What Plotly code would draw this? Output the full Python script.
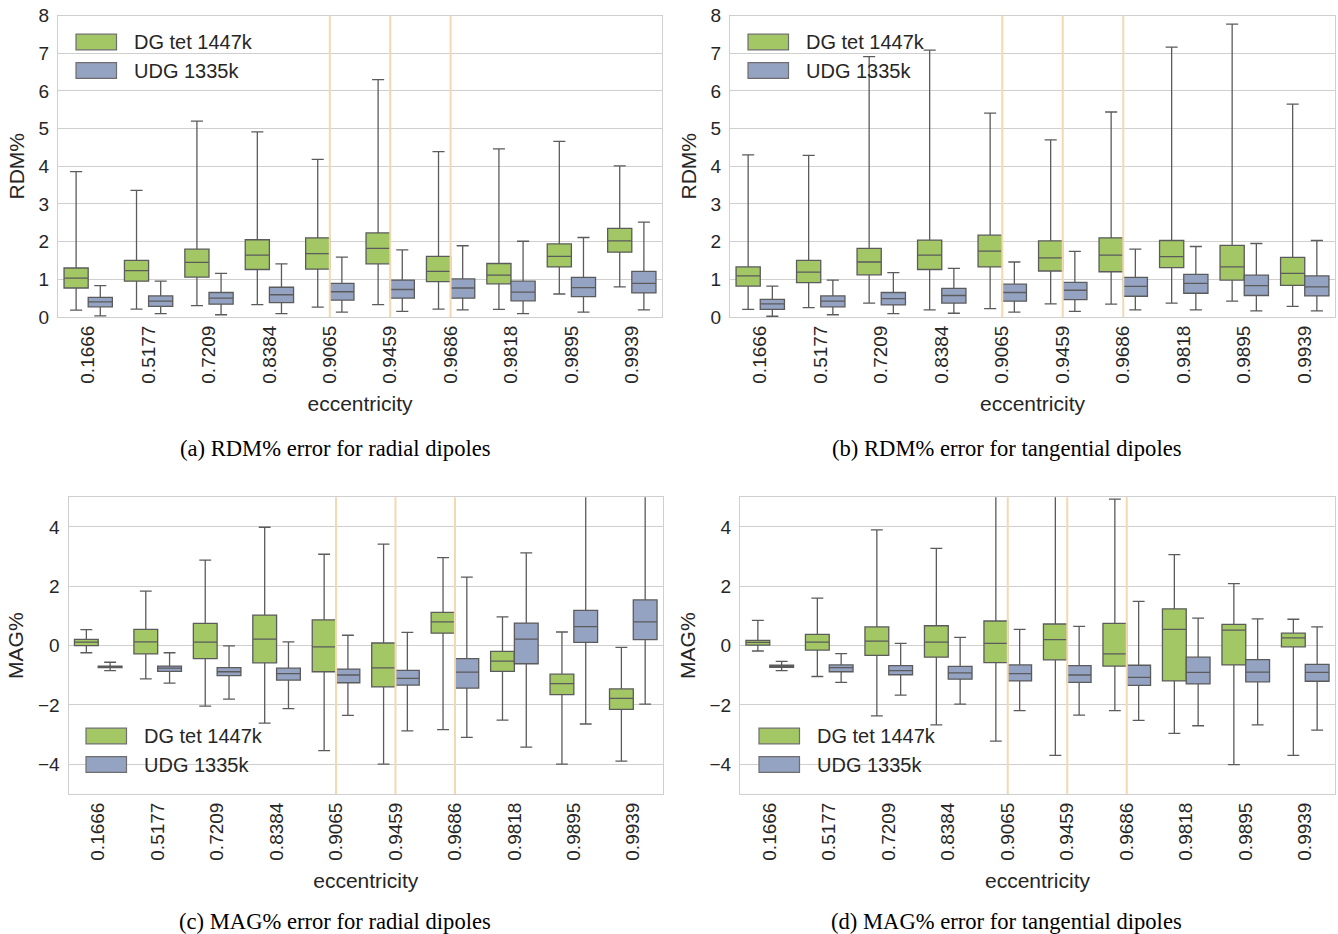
import plotly.graph_objects as go

# ---------------- data ----------------
categories = ["0.1666", "0.5177", "0.7209", "0.8384", "0.9065",
              "0.9459", "0.9686", "0.9818", "0.9895", "0.9939"]
highlighted = ["0.9065", "0.9459", "0.9686"]
series_names = ["DG tet 1447k", "UDG 1335k"]

# (a) RDM% radial
a_dg_low = [0.18, 0.21, 0.30, 0.33, 0.26, 0.33, 0.21, 0.20, 0.61, 0.80]
a_dg_q1 = [0.77, 0.95, 1.06, 1.26, 1.27, 1.41, 0.94, 0.88, 1.33, 1.72]
a_dg_med = [1.03, 1.23, 1.45, 1.64, 1.68, 1.82, 1.21, 1.11, 1.61, 2.02]
a_dg_q3 = [1.30, 1.50, 1.80, 2.05, 2.10, 2.23, 1.61, 1.42, 1.94, 2.35]
a_dg_up = [3.86, 3.36, 5.20, 4.91, 4.18, 6.30, 4.39, 4.46, 4.66, 4.01]
a_udg_low = [0.03, 0.09, 0.06, 0.09, 0.13, 0.15, 0.19, 0.09, 0.13, 0.19]
a_udg_q1 = [0.27, 0.28, 0.34, 0.38, 0.45, 0.50, 0.50, 0.43, 0.54, 0.64]
a_udg_med = [0.40, 0.42, 0.50, 0.59, 0.67, 0.73, 0.77, 0.66, 0.78, 0.89]
a_udg_q3 = [0.52, 0.56, 0.65, 0.79, 0.89, 0.98, 1.01, 0.95, 1.05, 1.21]
a_udg_up = [0.83, 0.95, 1.16, 1.41, 1.59, 1.78, 1.89, 2.01, 2.11, 2.52]

# (b) RDM% tangential
b_dg_low = [0.20, 0.25, 0.37, 0.19, 0.22, 0.35, 0.34, 0.37, 0.42, 0.28]
b_dg_q1 = [0.82, 0.91, 1.12, 1.26, 1.33, 1.22, 1.20, 1.31, 0.98, 0.84]
b_dg_med = [1.09, 1.19, 1.46, 1.64, 1.75, 1.57, 1.64, 1.60, 1.33, 1.16]
b_dg_q3 = [1.33, 1.50, 1.82, 2.04, 2.17, 2.02, 2.10, 2.03, 1.90, 1.58]
b_dg_up = [4.30, 4.29, 6.91, 7.08, 5.41, 4.70, 5.44, 7.16, 7.77, 5.65]
b_udg_low = [0.02, 0.06, 0.09, 0.10, 0.13, 0.15, 0.19, 0.19, 0.16, 0.16]
b_udg_q1 = [0.20, 0.27, 0.32, 0.37, 0.42, 0.46, 0.55, 0.63, 0.57, 0.56]
b_udg_med = [0.35, 0.42, 0.49, 0.57, 0.65, 0.71, 0.81, 0.89, 0.83, 0.80]
b_udg_q3 = [0.47, 0.56, 0.65, 0.76, 0.87, 0.92, 1.05, 1.13, 1.11, 1.09]
b_udg_up = [0.82, 0.98, 1.18, 1.29, 1.46, 1.74, 1.80, 1.87, 1.95, 2.03]

# (c) MAG% radial
c_dg_low = [-0.24, -1.12, -2.04, -2.61, -3.54, -3.99, -2.83, -2.51, -3.99, -3.89]
c_dg_q1 = [0.00, -0.28, -0.44, -0.58, -0.88, -1.39, 0.42, -0.87, -1.65, -2.15]
c_dg_med = [0.12, 0.13, 0.12, 0.22, -0.04, -0.75, 0.80, -0.52, -1.28, -1.78]
c_dg_q3 = [0.21, 0.55, 0.75, 1.03, 0.87, 0.09, 1.12, -0.19, -0.96, -1.46]
c_dg_up = [0.54, 1.84, 2.88, 3.99, 3.08, 3.42, 2.97, 0.97, 0.46, -0.06]
c_udg_low = [-0.84, -1.26, -1.80, -2.12, -2.35, -2.87, -3.09, -3.42, -2.64, -1.97]
c_udg_q1 = [-0.74, -0.87, -1.01, -1.16, -1.25, -1.33, -1.43, -0.61, 0.11, 0.20]
c_udg_med = [-0.71, -0.76, -0.88, -0.94, -0.99, -1.10, -0.89, 0.22, 0.64, 0.80]
c_udg_q3 = [-0.69, -0.69, -0.74, -0.76, -0.79, -0.83, -0.44, 0.76, 1.19, 1.54]
c_udg_up = [-0.56, -0.24, -0.01, 0.13, 0.35, 0.45, 2.31, 3.13, 5.60, 5.90]

# (d) MAG% tangential
d_dg_low = [-0.18, -1.04, -2.37, -2.67, -3.22, -3.70, -2.19, -2.96, -4.01, -3.70]
d_dg_q1 = [0.02, -0.15, -0.33, -0.39, -0.57, -0.48, -0.69, -1.19, -0.65, -0.04]
d_dg_med = [0.11, 0.12, 0.15, 0.12, 0.08, 0.20, -0.28, 0.55, 0.52, 0.26]
d_dg_q3 = [0.18, 0.38, 0.63, 0.67, 0.83, 0.73, 0.75, 1.24, 0.72, 0.42]
d_dg_up = [0.85, 1.60, 3.90, 3.28, 5.60, 5.80, 4.94, 3.07, 2.09, 0.89]
d_udg_low = [-0.84, -1.24, -1.67, -1.97, -2.19, -2.34, -2.52, -2.70, -2.67, -2.85]
d_udg_q1 = [-0.73, -0.88, -0.98, -1.13, -1.19, -1.24, -1.34, -1.29, -1.22, -1.20]
d_udg_med = [-0.70, -0.74, -0.84, -0.92, -0.94, -0.99, -1.07, -0.90, -0.89, -0.90]
d_udg_q3 = [-0.66, -0.65, -0.67, -0.70, -0.65, -0.67, -0.66, -0.39, -0.47, -0.63]
d_udg_up = [-0.53, -0.27, 0.08, 0.28, 0.55, 0.65, 1.49, 0.93, 0.90, 0.63]

y_titles = ["RDM%", "RDM%", "MAG%", "MAG%"]
captions = ["(a) RDM% error for radial dipoles",
            "(b) RDM% error for tangential dipoles",
            "(c) MAG% error for radial dipoles",
            "(d) MAG% error for tangential dipoles"]

# ---------------- style ----------------
W, H = 1338, 934
GREEN = "#a2c764"
BLUE = "#95a3c3"
EDGE = "#5b5b5b"
PATCH_EDGE = "#6e6e6e"
ORANGE = "rgb(243,216,176)"
GRID = "#cfcfcf"
TXT = "#262626"
SANS = "Liberation Sans, Arial, sans-serif"
SERIF = "Liberation Serif, Times New Roman, serif"
colors = [GREEN, BLUE]

panels = [
    dict(dg=(a_dg_low, a_dg_q1, a_dg_med, a_dg_q3, a_dg_up),
         udg=(a_udg_low, a_udg_q1, a_udg_med, a_udg_q3, a_udg_up),
         xpx=(58, 662), ypx=(15.5, 317), yr=[0, 8], dtick=1,
         leg=(76, 42), cap=(335, 448)),
    dict(dg=(b_dg_low, b_dg_q1, b_dg_med, b_dg_q3, b_dg_up),
         udg=(b_udg_low, b_udg_q1, b_udg_med, b_udg_q3, b_udg_up),
         xpx=(730, 1335), ypx=(15.5, 317), yr=[0, 8], dtick=1,
         leg=(748, 42), cap=(1006, 448)),
    dict(dg=(c_dg_low, c_dg_q1, c_dg_med, c_dg_q3, c_dg_up),
         udg=(c_udg_low, c_udg_q1, c_udg_med, c_udg_q3, c_udg_up),
         xpx=(68.5, 663), ypx=(497.3, 794), yr=[-5, 5], dtick=2,
         leg=(86, 736), cap=(335, 921)),
    dict(dg=(d_dg_low, d_dg_q1, d_dg_med, d_dg_q3, d_dg_up),
         udg=(d_udg_low, d_udg_q1, d_udg_med, d_udg_q3, d_udg_up),
         xpx=(740, 1335), ypx=(497.3, 794), yr=[-5, 5], dtick=2,
         leg=(759, 736), cap=(1006, 921)),
]

fig = go.Figure()
layout = dict(
    width=W, height=H,
    margin=dict(l=0, r=0, t=0, b=0, pad=0, autoexpand=False),
    paper_bgcolor="white", plot_bgcolor="white",
    boxmode="group", boxgap=0.2, boxgroupgap=0.0,
    font=dict(family=SANS, color=TXT, size=19),
    showlegend=False,
    shapes=[], annotations=[],
)

for i, p in enumerate(panels):
    n = "" if i == 0 else str(i + 1)
    xa, ya = "x" + n, "y" + n
    for name, stats, col in ((series_names[0], p["dg"], GREEN),
                             (series_names[1], p["udg"], BLUE)):
        low, q1, med, q3, up = stats
        fig.add_trace(go.Box(
            x=categories, q1=q1, median=med, q3=q3,
            lowerfence=low, upperfence=up,
            name=name, offsetgroup=name,
            fillcolor=col, line=dict(color=EDGE, width=1.3),
            whiskerwidth=0.5, boxpoints=False, hoverinfo="skip",
            xaxis=xa, yaxis=ya, showlegend=False,
        ))
    x0, x1 = p["xpx"]
    yt, yb = p["ypx"]
    layout["xaxis" + n] = dict(
        domain=[x0 / W, x1 / W], anchor=ya, type="category",
        categoryorder="array", categoryarray=categories,
        range=[-0.5, len(categories) - 0.5], automargin=False,
        tickangle=-90, tickfont=dict(size=19, color=TXT),
        showgrid=False, showline=True, linecolor=GRID, linewidth=1,
        mirror=True, ticks="", ticklen=0,
        title=dict(text="eccentricity", font=dict(size=21, color=TXT), standoff=13),
    )
    layout["yaxis" + n] = dict(
        domain=[1 - yb / H, 1 - yt / H], anchor=xa, automargin=False,
        range=p["yr"], dtick=p["dtick"], tick0=0,
        tickfont=dict(size=19, color=TXT), ticklabelstandoff=4,
        showgrid=True, gridcolor=GRID, gridwidth=1, zeroline=False,
        showline=True, linecolor=GRID, linewidth=1, mirror=True,
        ticks="", ticklen=0,
        title=dict(text=y_titles[i], font=dict(size=21, color=TXT), standoff=8),
    )
    # legend: coloured patches + labels (top-left of each panel)
    lx, ly = p["leg"]
    for j, (nm, col) in enumerate(zip(series_names, colors)):
        cy = ly + 28.5 * j
        layout["shapes"].append(dict(
            type="rect", xref="paper", yref="paper",
            x0=lx / W, x1=(lx + 40.5) / W,
            y0=1 - (cy + 7.8) / H, y1=1 - (cy - 7.8) / H,
            fillcolor=col, line=dict(color=PATCH_EDGE, width=1.2), layer="above"))
        layout["annotations"].append(dict(
            text=nm, xref="paper", yref="paper", x=(lx + 56) / W, y=1 - cy / H,
            xanchor="left", yanchor="middle", showarrow=False,
            font=dict(family=SANS, size=20, color=TXT)))
    for c in highlighted:
        k = categories.index(c)
        layout["shapes"].append(dict(
            type="line", xref=xa, yref=ya + " domain", x0=k, x1=k, y0=0, y1=1,
            line=dict(color=ORANGE, width=2), layer="above"))
    cx, cy = p["cap"]
    layout["annotations"].append(dict(
        text=captions[i], xref="paper", yref="paper", x=cx / W, y=1 - cy / H,
        xanchor="center", yanchor="middle", showarrow=False,
        font=dict(family=SERIF, size=22.6, color="black")))

fig.update_layout(**layout)
fig.write_html("out.html", config={"displayModeBar": False},
               post_script="document.body.style.margin='0';document.body.style.overflow='hidden';")
